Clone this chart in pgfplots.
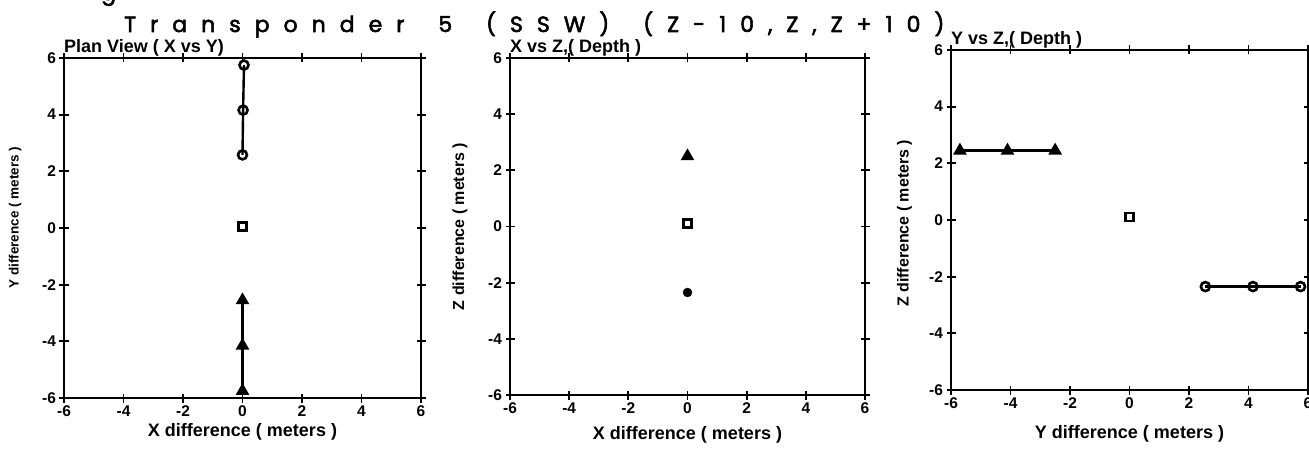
\documentclass[border=0pt]{standalone}
\usepackage{fontspec}
\setmainfont{Liberation Sans}
\newfontfamily\titlefont{Poppins}[FakeBold=2.5]
\usepackage{graphicx}
\usepackage{pgfplots}
\pgfplotsset{compat=1.18}
\newlength\lsk
\setlength\lsk{14pt}
\def\ls#1{\ifx#1\relax\else#1\kern\lsk\expandafter\ls\fi}
\pgfplotsset{
  panel/.style={
    scale only axis, clip=false,
    xmin=-6, xmax=6, ymin=-6, ymax=6,
    xtick={-6,-4,...,6}, ytick={-6,-4,...,6},
    tick align=center, major tick length=9pt,
    axis line style={line width=2.6pt},
    every tick/.style={black, line width=1.8pt},
    ticklabel style={font=\fontsize{15.5}{15.5}\selectfont\bfseries},
    /pgf/number format/assume math mode=true,
  },
  circ/.style={black, line width=2.4pt, mark=o, mark size=4.5pt, mark options={line width=2.6pt}},
  tri/.style={black, line width=2.4pt, mark=triangle*, mark size=5.5pt},
  sq/.style={black, only marks, mark=square, mark size=4pt, mark options={line width=2.6pt}},
}
\tikzset{ptitle/.style={font=\fontsize{18}{18}\selectfont\bfseries, anchor=south west, inner sep=0pt, yshift=1.5pt},
  xl/.style={font=\fontsize{18}{18}\selectfont\bfseries, anchor=center},
  yl/.style={font=\fontsize{16}{16}\selectfont\bfseries, anchor=center, rotate=90}}
\begin{document}
\begin{tikzpicture}[x=1pt,y=1pt]
\useasboundingbox (0pt,0pt) rectangle (1309pt,448pt);
\node[font=\titlefont\fontsize{22}{22}\selectfont, anchor=base west, inner sep=0pt] at (101pt,448pt) {g};
\node[font=\titlefont\fontsize{22}{22}\selectfont, anchor=base west, inner sep=0pt] at (124pt,416pt) {\ls Transponder~5~(SSW)~(Z-10,Z,Z+10)\relax};
% Panel 1
\begin{axis}[panel, at={(64pt,50pt)}, anchor=south west, width=357pt, height=340pt,
  xlabel={X difference ( meters )}, ylabel={Y difference ( meters )},
  every axis x label/.style={at={(axis description cs:0.5,-0.1)}, xl},
  every axis y label/.style={at={(axis description cs:-0.137,0.53)}, yl, font=\fontsize{13.5}{13.5}\selectfont\bfseries}]
\addplot[circ] coordinates {(0.05,5.75) (0.02,4.16) (0,2.58)};
\addplot[sq] coordinates {(0,0.05)};
\addplot[tri] coordinates {(0,-2.55) (0,-4.15) (0,-5.75)};
\node[ptitle] at (rel axis cs:0,1) {Plan View ( X vs Y)};
\end{axis}
% Panel 2
\begin{axis}[panel, at={(510pt,53pt)}, anchor=south west, width=355pt, height=337pt,
  xlabel={X difference ( meters )}, ylabel={Z difference ( meters )},
  every axis x label/.style={at={(axis description cs:0.5,-0.119)}, xl},
  every axis y label/.style={at={(axis description cs:-0.141,0.5)}, yl}]
\addplot[tri, only marks] coordinates {(0,2.5)};
\addplot[sq] coordinates {(0,0.1)};
\addplot[black, only marks, mark=*, mark size=4.5pt] coordinates {(0,-2.35)};
\node[ptitle] at (rel axis cs:0,1) {X vs Z,( Depth )};
\end{axis}
% Panel 3
\begin{axis}[panel, at={(951pt,58pt)}, anchor=south west, width=357pt, height=340pt,
  xlabel={Y difference ( meters )}, ylabel={Z difference ( meters )},
  every axis x label/.style={at={(axis description cs:0.5,-0.13)}, xl},
  every axis y label/.style={at={(axis description cs:-0.13,0.49)}, yl}]
\addplot[tri] coordinates {(-5.7,2.45) (-4.1,2.45) (-2.5,2.45)};
\addplot[sq] coordinates {(0,0.1)};
\addplot[circ] coordinates {(2.55,-2.35) (4.15,-2.35) (5.75,-2.35)};
\node[ptitle] at (rel axis cs:0,1) {Y vs Z,( Depth )};
\end{axis}
\end{tikzpicture}
\end{document}
